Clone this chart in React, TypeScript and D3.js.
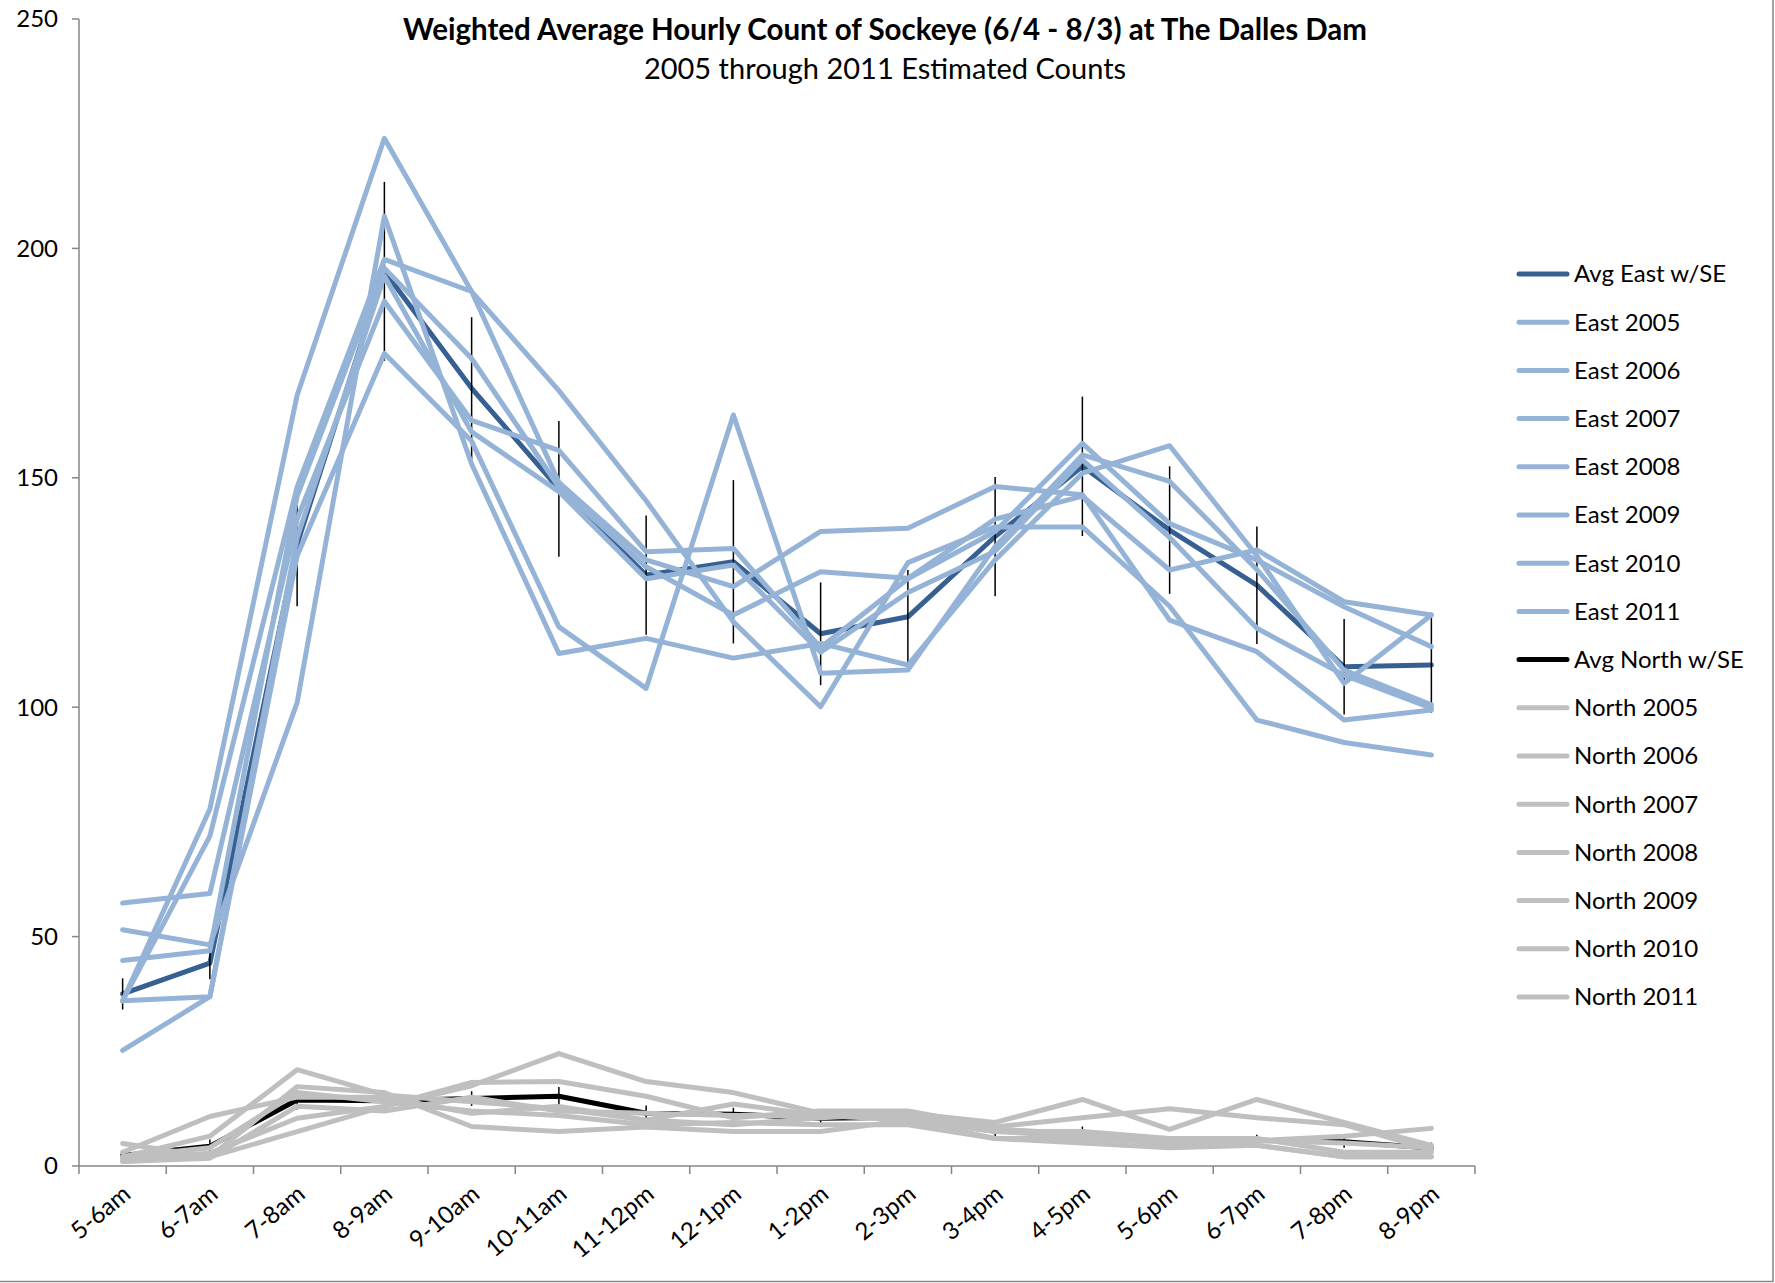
import * as d3 from "d3";
import * as React from "react";

// hourly blocks on the x axis
const hours = [
  "5-6am", "6-7am", "7-8am", "8-9am", "9-10am", "10-11am", "11-12pm", "12-1pm",
  "1-2pm", "2-3pm", "3-4pm", "4-5pm", "5-6pm", "6-7pm", "7-8pm", "8-9pm",
];
const yTicks = [0, 50, 100, 150, 200, 250];

// east ladder, weighted average with standard error
const avgEast = [37.5, 44.2, 135.5, 195, 169.5, 147.6, 128.8, 131.7, 116, 119.7, 137.2, 152.5, 138.6, 126.6, 108.8, 109.2];
const seEast = [3.4, 3.5, 13.5, 19.5, 15.5, 14.8, 13, 17.8, 11.2, 10.2, 13, 15.2, 13.9, 12.8, 10.4, 10.4];
const east2005 = [36, 77.8, 168, 224, 190.6, 169, 145, 118.6, 100.1, 131.5, 139.3, 139.3, 122, 97.2, 92.3, 89.6];
const east2006 = [36, 71.9, 148, 197.6, 190.6, 149, 132.1, 126.3, 138.3, 139, 148.1, 146.3, 119, 112.1, 97.2, 99.4];
const east2007 = [57.3, 59.4, 141, 188.5, 162.5, 156, 133.9, 134.6, 113, 128, 138.3, 157.5, 140, 132.1, 121.9, 113.2];
const east2008 = [51.5, 48.2, 101, 207, 153, 111.7, 115, 110.7, 113.9, 109.2, 132.1, 151, 157, 133, 105.2, 120.1];
const east2009 = [44.8, 46.9, 146, 195.7, 176, 148, 130.6, 120.1, 129.5, 128.1, 141, 146, 129.9, 134.3, 123, 120.1];
const east2010 = [36, 36.9, 137, 194, 160, 147, 128, 131, 112, 125, 134, 153.9, 137, 117.2, 107, 99.8];
const east2011 = [25.2, 36.9, 133, 177.1, 158, 117.5, 104.1, 163.7, 107.4, 108.1, 135, 155, 149.2, 130, 108.1, 100.5];

// north ladder
const avgNorth = [2.3, 4.3, 14.4, 14.2, 14.7, 15.2, 11.5, 11.3, 10.4, 10.6, 7.6, 7.4, 5.2, 5.6, 5.3, 3.9];
const seNorth = [1, 1.5, 2.1, 1.7, 1.6, 2, 1.7, 1.4, 1.4, 1.5, 1.1, 1.2, 1.1, 1.2, 1.3, 1.2];
const north2005 = [2, 6.5, 21, 15.5, 14, 12.5, 10, 13.5, 11, 10.5, 7.5, 6.5, 5.5, 5.5, 5, 4];
const north2006 = [3, 10.8, 15, 15, 11.5, 13, 10, 9, 10.5, 11.5, 9.5, 14.5, 8, 14.5, 9.5, 4.5];
const north2007 = [1.5, 2.8, 10.4, 13, 18.2, 18.4, 15.2, 10.5, 12, 12, 8.5, 10.5, 12.5, 10.5, 9, 3.5];
const north2008 = [4.9, 2, 17.3, 16, 8.6, 7.5, 8.5, 7.5, 7.5, 10, 6, 6, 5, 5.5, 6.5, 8.2];
const north2009 = [2, 4, 16, 14, 12, 11, 9, 9.5, 9, 9, 6, 5, 4, 4.5, 2, 2];
const north2010 = [1, 1.7, 13, 12, 15, 12, 11.5, 11, 11, 10, 7.5, 7.5, 6, 6, 3, 3];
const north2011 = [1, 2, 7.5, 13, 17.5, 24.5, 18.4, 16, 11.5, 11, 8, 7, 4.5, 4.5, 2, 2];

const DARK = "#376092";
const LIGHT = "#95b3d7";
const GREY = "#bfbfbf";

const series = [
  { name: "Avg East w/SE", values: avgEast, se: seEast, color: DARK },
  { name: "East 2005", values: east2005, color: LIGHT },
  { name: "East 2006", values: east2006, color: LIGHT },
  { name: "East 2007", values: east2007, color: LIGHT },
  { name: "East 2008", values: east2008, color: LIGHT },
  { name: "East 2009", values: east2009, color: LIGHT },
  { name: "East 2010", values: east2010, color: LIGHT },
  { name: "East 2011", values: east2011, color: LIGHT },
  { name: "Avg North w/SE", values: avgNorth, se: seNorth, color: "#000000" },
  { name: "North 2005", values: north2005, color: GREY },
  { name: "North 2006", values: north2006, color: GREY },
  { name: "North 2007", values: north2007, color: GREY },
  { name: "North 2008", values: north2008, color: GREY },
  { name: "North 2009", values: north2009, color: GREY },
  { name: "North 2010", values: north2010, color: GREY },
  { name: "North 2011", values: north2011, color: GREY },
];

const W = 1775;
const H = 1283;
const FONT = "Lato, 'Open Sans', sans-serif";
const AXIS = "#868686";

export default function App() {
  const margin = { left: 79, right: 1475, top: 19, bottom: 1166 };

  const x = d3.scaleBand<string>().domain(hours).range([margin.left, margin.right]);
  const y = d3.scaleLinear().domain([0, 250]).range([margin.bottom, margin.top]);
  const cx = (i: number) => (x(hours[i]) as number) + x.bandwidth() / 2;

  const line = d3
    .line<number>()
    .x((d, i) => cx(i))
    .y((d) => y(d));

  const boundaries = d3.range(hours.length + 1).map((i) => margin.left + i * x.bandwidth());

  return (
    <>
      <style>{`body{margin:0}`}</style>
      <svg width={W} height={H} style={{ display: "block", background: "#fff" }}>
        {/* frame */}
        <line x1={W - 2} x2={W - 2} y1={0} y2={H - 1} stroke={AXIS} strokeWidth={1.5} />
        <line x1={0} x2={W - 2} y1={H - 1.5} y2={H - 1.5} stroke={AXIS} strokeWidth={1.5} />

        {/* title */}
        <text x={885} y={40} textAnchor="middle" fontFamily={FONT} fontWeight="bold" fontSize={29.5}>
          Weighted Average Hourly Count of Sockeye (6/4 - 8/3) at The Dalles Dam
        </text>
        <text x={885} y={79} textAnchor="middle" fontFamily={FONT} fontSize={29}>
          2005 through 2011 Estimated Counts
        </text>

        {/* y axis */}
        <line x1={margin.left} x2={margin.left} y1={margin.top} y2={margin.bottom} stroke={AXIS} strokeWidth={1.5} />
        {yTicks.map((t) => (
          <g key={t}>
            <line x1={margin.left - 7} x2={margin.left} y1={y(t)} y2={y(t)} stroke={AXIS} strokeWidth={1.5} />
            <text x={margin.left - 21} y={y(t)} dy="0.35em" textAnchor="end" fontFamily={FONT} fontSize={24}>
              {t}
            </text>
          </g>
        ))}

        {/* x axis */}
        <line x1={margin.left} x2={margin.right} y1={margin.bottom} y2={margin.bottom} stroke={AXIS} strokeWidth={1.5} />
        {boundaries.map((b, i) => (
          <line key={i} x1={b} x2={b} y1={margin.bottom} y2={margin.bottom + 8} stroke={AXIS} strokeWidth={1.5} />
        ))}
        {hours.map((h, i) => (
          <text
            key={h}
            transform={`translate(${cx(i) + 4},${margin.bottom + 24}) rotate(-40)`}
            textAnchor="end"
            dy="0.35em"
            fontFamily={FONT}
            fontSize={24}
          >
            {h}
          </text>
        ))}

        {/* series, drawn in legend order */}
        {series.map((s) => (
          <g key={s.name}>
            <path d={line(s.values) as string} fill="none" stroke={s.color} strokeWidth={5} strokeLinejoin="round" strokeLinecap="round" />
            {s.se &&
              s.values.map((v, i) => (
                <line
                  key={i}
                  x1={cx(i)}
                  x2={cx(i)}
                  y1={y(v + s.se[i])}
                  y2={y(v - s.se[i])}
                  stroke="#000"
                  strokeWidth={1.5}
                />
              ))}
          </g>
        ))}

        {/* legend */}
        {series.map((s, i) => {
          const ly = 274 + i * 48.2;
          return (
            <g key={s.name}>
              <line x1={1519} x2={1567} y1={ly} y2={ly} stroke={s.color} strokeWidth={5} strokeLinecap="round" />
              <text x={1574} y={ly} dy="0.35em" fontFamily={FONT} fontSize={24}>
                {s.name}
              </text>
            </g>
          );
        })}
      </svg>
    </>
  );
}
